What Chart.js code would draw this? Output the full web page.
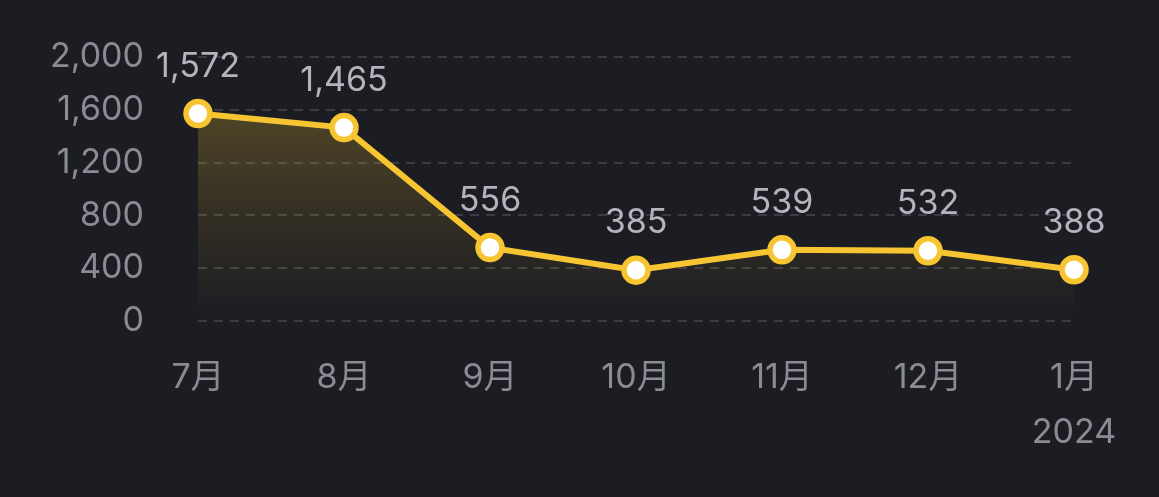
<!DOCTYPE html>
<html>
<head>
<meta charset="utf-8">
<script src="https://cdn.jsdelivr.net/npm/chart.js@4.4.1/dist/chart.umd.min.js"></script>
<style>
  html, body { margin: 0; padding: 0; background: #1c1d23; }
  #wrap { width: 1159px; height: 497px; position: relative; }
</style>
</head>
<body>
<div id="wrap"><canvas id="grafico"></canvas></div>
<script>
// datos del gráfico
const meses = ['7月', '8月', '9月', '10月', '11月', '12月', ['1月', '2024']];
const valores = [1572, 1465, 556, 385, 539, 532, 388];
const ticksY = [0, 400, 800, 1200, 1600, 2000];

const fuente = "Inter, 'Noto Sans CJK SC', sans-serif";
const amarillo = '#f6c531';

// etiquetas de valor encima de cada punto
const etiquetasValor = {
  id: 'etiquetasValor',
  afterDatasetsDraw(chart) {
    const ctx = chart.ctx;
    const meta = chart.getDatasetMeta(0);
    ctx.save();
    ctx.font = '34px ' + fuente;
    ctx.fillStyle = '#b4b5bc';
    ctx.textAlign = 'center';
    ctx.textBaseline = 'middle';
    meta.data.forEach((p, i) => {
      ctx.fillText(valores[i].toLocaleString('en-US'), p.x, p.y - 47);
    });
    ctx.restore();
  }
};

new Chart(document.getElementById('grafico'), {
  type: 'line',
  data: {
    labels: meses,
    datasets: [{
      data: valores,
      borderColor: amarillo,
      borderWidth: 6,
      pointRadius: 12,
      pointHoverRadius: 12,
      pointBackgroundColor: '#ffffff',
      pointBorderColor: amarillo,
      pointBorderWidth: 5.5,
      tension: 0,
      fill: 'origin',
      backgroundColor: (context) => {
        const area = context.chart.chartArea;
        if (!area) return 'rgba(246,197,49,0.2)';
        const g = context.chart.ctx.createLinearGradient(0, area.top, 0, area.bottom);
        g.addColorStop(0, 'rgba(246,197,49,0.30)');
        g.addColorStop(0.6, 'rgba(246,197,49,0.11)');
        g.addColorStop(1, 'rgba(246,197,49,0.0)');
        return g;
      }
    }]
  },
  options: {
    responsive: true,
    maintainAspectRatio: false,
    animation: false,
    layout: { padding: { top: 57, right: 85, bottom: 0, left: 0 } },
    plugins: {
      legend: { display: false },
      tooltip: { enabled: false }
    },
    scales: {
      x: {
        offset: false,
        grid: { display: false, drawTicks: false },
        border: { display: false },
        ticks: {
          color: '#8a8b93',
          padding: 30,
          maxRotation: 0,
          autoSkip: false,
          font: { size: 34, family: fuente, lineHeight: 1.6 }
        },
        afterFit: (s) => { s.height = 176; s.paddingLeft = 0; s.paddingRight = 0; }
      },
      y: {
        min: 0,
        max: 2000,
        afterBuildTicks: (s) => { s.ticks = ticksY.map(v => ({ value: v })); },
        grid: {
          color: '#3b3c43',
          lineWidth: 2,
          drawTicks: false
        },
        border: { display: false, dash: [9, 7] },
        ticks: {
          color: '#8a8b93',
          padding: 54,
          font: { size: 34, family: fuente },
          callback: (v) => v.toLocaleString('en-US')
        },
        afterFit: (s) => { s.width = 198; s.paddingTop = 0; s.paddingBottom = 0; }
      }
    }
  },
  plugins: [etiquetasValor]
});
</script>
</body>
</html>
